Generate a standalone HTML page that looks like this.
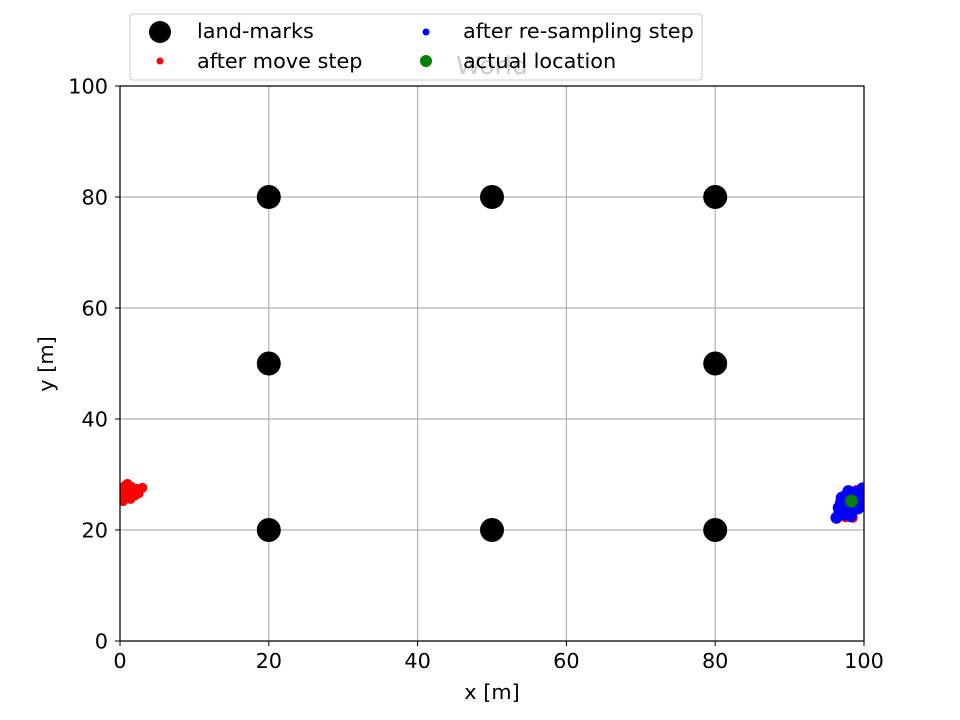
<!DOCTYPE html>
<html><head><meta charset="utf-8"><style>body{margin:0;background:#fff}svg{display:block;font-family:"DejaVu Sans","Liberation Sans",sans-serif}</style></head>
<body>
<svg id="chart" width="960" height="720" xmlns="http://www.w3.org/2000/svg">
<defs><clipPath id="clip"><rect x="120" y="86" width="744" height="555"/></clipPath></defs>
<g id="grid"></g>
<g id="ticks"></g>
<g id="marks" clip-path="url(#clip)"></g>
<rect x="120" y="86" width="744" height="555" fill="none" stroke="#000" stroke-width="1.2"/>
<text x="492" y="74" font-size="25" fill="#000" text-anchor="middle">World</text>
<text x="492" y="699" font-size="20.8" text-anchor="middle">x [m]</text>
<text x="53" y="364" font-size="20.8" text-anchor="middle" transform="rotate(-90 53 364)">y [m]</text>
<g>
<rect x="130" y="14" width="572" height="66" rx="3" fill="#fff" fill-opacity="0.8" stroke="#ccc"/>
<circle cx="160" cy="32" r="11" fill="#000"/>
<text x="197" y="38" font-size="20.8">land-marks</text>
<circle cx="160" cy="61" r="3.5" fill="red"/>
<text x="197" y="68" font-size="20.8">after move step</text>
<circle cx="426" cy="32" r="3.5" fill="blue"/>
<text x="463" y="38" font-size="20.8">after re-sampling step</text>
<circle cx="426" cy="61" r="6" fill="green"/>
<text x="463" y="68" font-size="20.8">actual location</text>
</g>
</svg>
<script>
const ticks=[0,20,40,60,80,100];
const landmarksX=[20,50,80,20,80,20,50,80];
const landmarksY=[80,80,80,50,50,20,20,20];
const moveX=[0.2,0.5,1,1.5,2,0.8,1.2,0.3,3,2.2,1.8,0.6,0.1,1.4,2.5,0.9,0.4,1.1,0.2,0.7,96.5,97.5,98,99,97,98.5,96.8,99.5,97.8];
const moveY=[25.5,26.5,28.3,27.8,26.2,25.8,27,27.5,27.6,27.4,26.8,26.4,26,25.6,26.6,27.2,25.2,26.1,27,28,22.5,22.3,26.8,27.2,23,22.2,24.5,25.5,26.5];
const resampX=[96.3,96.8,97.2,97.5,98,98.5,99,99.5,99.8,97,97.8,98.3,98.8,99.3,96.6,97.4,98.2,99.6,100,97.6,96.9,97.3,98.6,99.2,99.9,96.7,97.9,98.9];
const resampY=[22.2,23.5,24.5,22.8,23.2,24,25,26.5,27.5,25.8,26,25.5,26.8,25.2,24,23,22.5,24.3,26.8,24.8,24.9,26,23.6,23.9,25.6,23.2,27,26.2];
const actualX=[98.3], actualY=[25.2];
const X=v=>120+v*7.44, Y=v=>641-v*5.55;
const NS="http://www.w3.org/2000/svg";
function mk(tag,attrs,parent){const e=document.createElementNS(NS,tag);for(const k in attrs)e.setAttribute(k,attrs[k]);document.getElementById(parent).appendChild(e);return e;}
ticks.forEach(t=>{
 const gx=mk('line',{x1:X(t),x2:X(t),y1:86,y2:641,stroke:'#b0b0b0','stroke-width':1.2},'grid');
 
 
 const gy=mk('line',{x1:120,x2:864,y1:Y(t),y2:Y(t),stroke:'#b0b0b0','stroke-width':1.2},'grid');
 
 
 const tx=mk('line',{x1:X(t),x2:X(t),y1:641,y2:646,stroke:'#000'},'ticks');
 
 
 const ty=mk('line',{x1:115,x2:120,y1:Y(t),y2:Y(t),stroke:'#000'},'ticks');
 
 
 const lx=mk('text',{x:X(t),y:668,'font-size':20.8,'text-anchor':'middle'},'ticks');lx.textContent=t;
 
 
 const ly=mk('text',{x:108,y:Y(t)+7.5,'font-size':20.8,'text-anchor':'end'},'ticks');ly.textContent=t;
 
 
});
landmarksX.forEach((v,i)=>{const c=mk('circle',{cx:X(v),cy:Y(landmarksY[i]),r:12,fill:'#000'},'marks');
 
 });
moveX.forEach((v,i)=>{const c=mk('circle',{cx:X(v),cy:Y(moveY[i]),r:5,fill:'red'},'marks');
 
 });
resampX.forEach((v,i)=>{const c=mk('circle',{cx:X(v),cy:Y(resampY[i]),r:6,fill:'blue'},'marks');
 
 });
actualX.forEach((v,i)=>{const c=mk('circle',{cx:X(v),cy:Y(actualY[i]),r:6.5,fill:'green'},'marks');
 
 });
</script>
</body></html>
